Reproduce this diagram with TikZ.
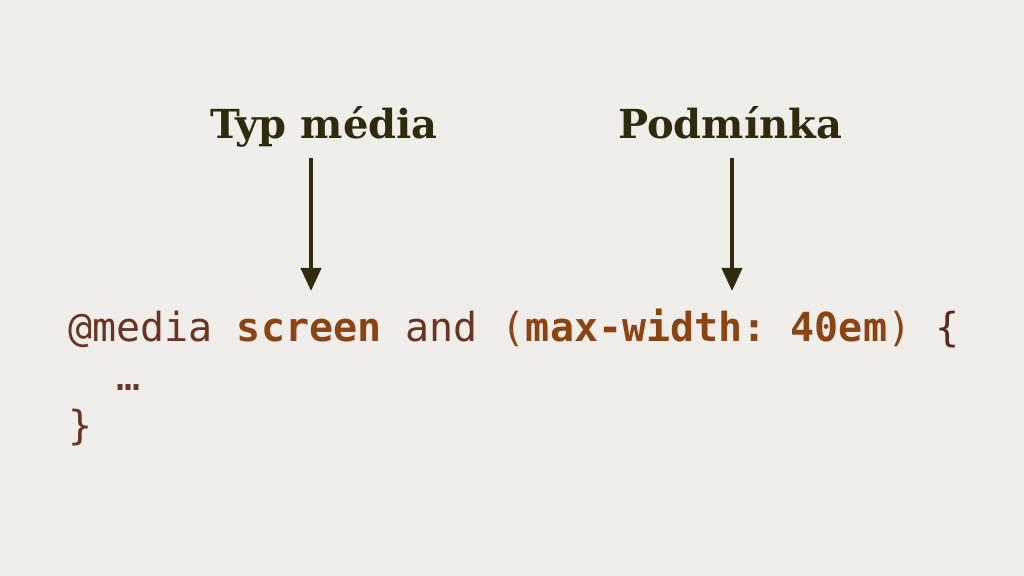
\documentclass[tikz,border=0pt]{standalone}
\usepackage{fontspec}
\usetikzlibrary{arrows.meta}
\newfontfamily\codefont{DejaVu Sans Mono}
\newfontfamily\headfont{DejaVu Serif}
\definecolor{bgc}{HTML}{F0EEEA}
\definecolor{headc}{HTML}{2E2C0C}
\definecolor{darkbr}{HTML}{6A3520}
\definecolor{keybr}{HTML}{8B4513}
\definecolor{bracebr}{HTML}{5B2A1A}
\frenchspacing
\tikzset{
  header/.style={font=\headfont\bfseries\fontsize{20pt}{24pt}\selectfont, text=headc, inner sep=0pt, anchor=base},
  codeline/.style={font=\codefont\fontsize{20pt}{24pt}\selectfont\frenchspacing, text=darkbr, inner sep=0pt, anchor=base west},
  pointer/.style={draw=headc, line width=2pt, -{Triangle[length=11.5pt,width=10pt]}}
}
\begin{document}
\begin{tikzpicture}[x=0.5pt,y=-0.5pt]
\fill[bgc] (0,0) rectangle (1024,576);
\useasboundingbox (0,0) rectangle (1024,576);
\node[header] (typ) at (324,139) {Typ média};
\node[header] (podm) at (730,139) {Podmínka};
\coordinate (t1) at (311,158);
\coordinate (h1) at (311,291);
\coordinate (t2) at (732,158);
\coordinate (h2) at (732,291);
\draw[pointer] (t1) -- (h1);
\draw[pointer] (t2) -- (h2);
\node[codeline] (l1) at (68,342) {@media \textcolor{keybr}{\bfseries screen} and \textcolor{keybr}{(\textbf{max-width: 40em})} \textcolor{bracebr}{\{}};
\node[codeline] (l2) at (116,391) {…};
\node[codeline] (l3) at (68,440) {\}};
\end{tikzpicture}
\end{document}
